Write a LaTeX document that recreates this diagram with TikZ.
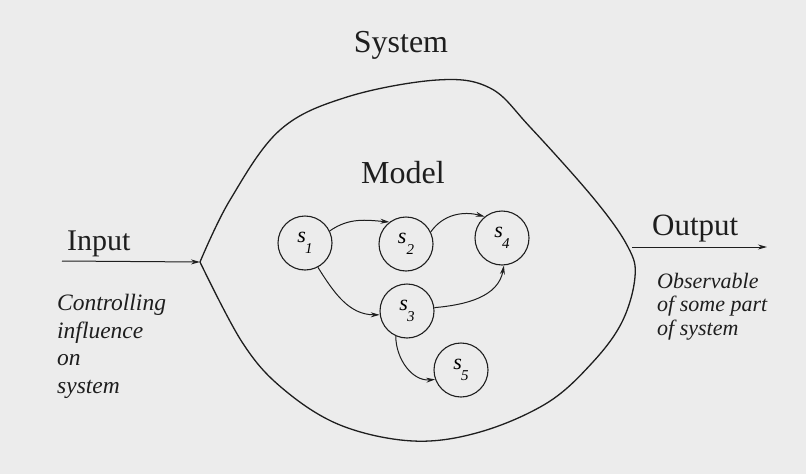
\documentclass[tikz,border=0pt]{standalone}
\usepackage{fontspec}
\setmainfont{Liberation Serif}
\usetikzlibrary{arrows.meta}
\definecolor{paper}{RGB}{236,236,236}
\definecolor{ink}{RGB}{30,30,30}
\newcommand{\sname}[2]{\textit{s}\kern#2pt\raisebox{-11pt}{\fontsize{15}{15}\selectfont\textit{#1}}}
\tikzset{
  state/.style={circle, draw=ink, line width=1.1pt, minimum size=54pt, inner sep=0pt, font=\fontsize{22}{22}\selectfont},
  trans/.style={draw=ink, line width=1pt, -{Stealth[length=9pt,width=5pt]}},
  big/.style={inner sep=0pt, text=ink, font=\fontsize{32}{32}\selectfont},
  desc/.style={inner sep=0pt, text=ink, align=left}
}
\begin{document}
\begin{tikzpicture}[x=1pt,y=1pt]
\fill[paper] (0,0) rectangle (806,-474);
\useasboundingbox (0,0) rectangle (806,-474);

% titles
\node[big, anchor=base] (sys) at (401,-52) {System};
\node[big, anchor=base] (model) at (403,-183) {Model};

% system boundary
\coordinate (L) at (200,-262);
\coordinate (R) at (635,-277);
\draw[ink, line width=1.3pt] plot[smooth, tension=0.6] coordinates {
 (200,-262) (230,-200) (280,-130) (347,-97) (437,-80) (490,-88) (530,-127)
 (595,-200) (628,-247) (635,-277) (622,-322) (592,-363) (547,-403) (480,-432)
 (413,-441) (340,-425) (282,-388) (242,-342) (200,-262)};

% states
\node[state] (s1) at (305,-243) {\sname{1}{-1}};
\node[state] (s2) at (406,-244) {\sname{2}{0}};
\node[state] (s4) at (502,-238) {\sname{4}{-1}};
\node[state] (s3) at (407,-311) {\sname{3}{-1}};
\node[state] (s5) at (461,-370) {\sname{5}{-1}};

% transitions
\draw[trans] (s1.26) to[out=35,in=175] (s2.127);
\draw[trans] (s2.26) to[out=55,in=165] (s4.129);
\draw[trans] (s1.-62) to[out=-58,in=180] (s3.188);
\draw[trans] (s3.7) to[out=5,in=-100] (s4.-86);
\draw[trans] (s3.246) to[out=-90,in=185] (s5.200);

% input
\node[big, anchor=base west, font=\fontsize{30}{30}\selectfont] (in) at (67,-250) {Input};
\coordinate (inS) at (62,-261);
\draw[trans] (inS) -- (L);
\node[desc, anchor=base west, font=\fontsize{23.5}{27.5}\selectfont\itshape] (indesc) at (57,-393)
  {Controlling\\influence\\on\\system};

% output
\node[big, anchor=base west, font=\fontsize{31}{31}\selectfont] (out) at (652,-235) {Output};
\coordinate (outS) at (632,-247);
\coordinate (outE) at (767,-247);
\draw[trans] (outS) -- (outE);
\node[desc, anchor=base west, font=\fontsize{22}{23.5}\selectfont\itshape] (outdesc) at (657,-335)
  {Observable\\of some part\\of system};
\end{tikzpicture}
\end{document}
